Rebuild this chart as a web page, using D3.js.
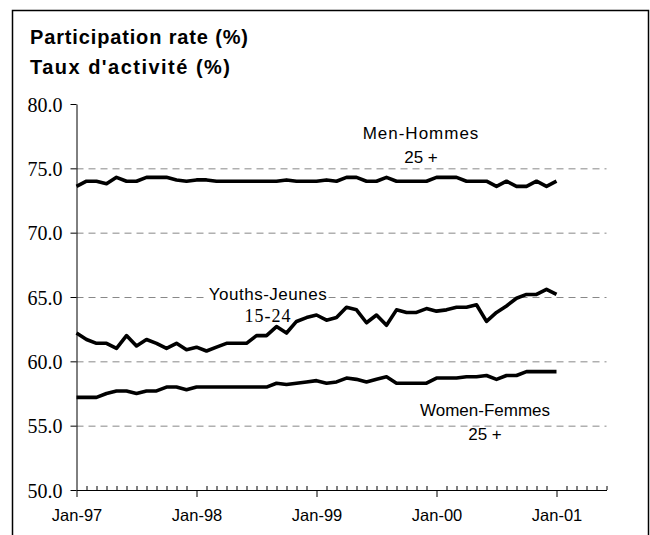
<!DOCTYPE html>
<html>
<head>
<meta charset="utf-8">
<script src="https://cdn.jsdelivr.net/npm/d3@7"></script>
<style>
  html, body { margin: 0; padding: 0; background: #fff; }
  svg { display: block; }
</style>
</head>
<body>
<svg id="chart" width="650" height="535"></svg>
<script>
// ---- data ----
const firstMonth = new Date(1997, 0, 1);
const lastAxisMonth = new Date(2001, 5, 1);
const categories = d3.timeMonth.range(firstMonth, d3.timeMonth.offset(lastAxisMonth, 1)).map(d3.timeFormat("%b-%y"));
const majorLabels = ["Jan-97", "Jan-98", "Jan-99", "Jan-00", "Jan-01"];
const yTicks = [50, 55, 60, 65, 70, 75, 80];
const gridValues = [55, 60, 65, 70, 75];

const men = [73.6, 74.0, 74.0, 73.8, 74.3, 74.0, 74.0, 74.3, 74.3, 74.3, 74.1, 74.0,
             74.1, 74.1, 74.0, 74.0, 74.0, 74.0, 74.0, 74.0, 74.0, 74.1, 74.0, 74.0,
             74.0, 74.1, 74.0, 74.3, 74.3, 74.0, 74.0, 74.3, 74.0, 74.0, 74.0, 74.0,
             74.3, 74.3, 74.3, 74.0, 74.0, 74.0, 73.6, 74.0, 73.6, 73.6, 74.0, 73.6,
             74.0];
const youths = [62.2, 61.7, 61.4, 61.4, 61.0, 62.0, 61.2, 61.7, 61.4, 61.0, 61.4, 60.9,
                61.1, 60.8, 61.1, 61.4, 61.4, 61.4, 62.0, 62.0, 62.7, 62.2, 63.1, 63.4,
                63.6, 63.2, 63.4, 64.2, 64.0, 63.0, 63.6, 62.8, 64.0, 63.8, 63.8, 64.1,
                63.9, 64.0, 64.2, 64.2, 64.4, 63.1, 63.8, 64.3, 64.9, 65.2, 65.2, 65.6,
                65.2];
const women = [57.2, 57.2, 57.2, 57.5, 57.7, 57.7, 57.5, 57.7, 57.7, 58.0, 58.0, 57.8,
               58.0, 58.0, 58.0, 58.0, 58.0, 58.0, 58.0, 58.0, 58.3, 58.2, 58.3, 58.4,
               58.5, 58.3, 58.4, 58.7, 58.6, 58.4, 58.6, 58.8, 58.3, 58.3, 58.3, 58.3,
               58.7, 58.7, 58.7, 58.8, 58.8, 58.9, 58.6, 58.9, 58.9, 59.2, 59.2, 59.2,
               59.2];

const titleLines = ["Participation rate (%)", "Taux d'activité (%)"];
const seriesLabels = [
  { name: "men", line1: "Men-Hommes", line2: "25 +" },
  { name: "youths", line1: "Youths-Jeunes", line2: "15-24" },
  { name: "women", line1: "Women-Femmes", line2: "25 +" }
];

// ---- layout ----
const svg = d3.select("#chart");
const plot = { left: 76.5, right: 606.5, top: 104, bottom: 490 };

const x = d3.scalePoint().domain(categories).range([plot.left, plot.right]);
const y = d3.scaleLinear().domain([50, 80]).range([plot.bottom, plot.top]);

// frame
svg.append("rect")
  .attr("x", 12.5).attr("y", 10.5).attr("width", 636).attr("height", 540)
  .attr("fill", "none").attr("stroke", "#000").attr("stroke-width", 1.5);

// title
const sans = "'Liberation Sans', Arial, sans-serif";
const serif = "'Liberation Serif', 'Times New Roman', serif";
const titleWidths = [218, 200];
svg.selectAll("text.title").data(titleLines).join("text")
  .attr("class", "title")
  .attr("x", 30).attr("y", (d, i) => 44 + i * 30)
  .attr("font-family", sans).attr("font-weight", "bold").attr("font-size", 20)
  .attr("textLength", (d, i) => titleWidths[i]).attr("lengthAdjust", "spacing")
  .attr("fill", "#000")
  .text(d => d);

// gridlines
svg.append("g").selectAll("line").data(gridValues).join("line")
  .attr("x1", plot.left).attr("x2", plot.right)
  .attr("y1", d => y(d) + 0.5).attr("y2", d => y(d) + 0.5)
  .attr("stroke", "#888").attr("stroke-width", 1).attr("stroke-dasharray", "7,5");

// lines
const line = d3.line().x((d, i) => x(categories[i])).y(d => y(d));
svg.append("g").selectAll("path").data([men, youths, women]).join("path")
  .attr("d", d => line(d))
  .attr("fill", "none").attr("stroke", "#000").attr("stroke-width", 3.6)
  .attr("stroke-linejoin", "round");

// y axis
const yAxis = svg.append("g").attr("transform", `translate(${plot.left},0)`)
  .call(d3.axisLeft(y).tickValues(yTicks).tickSize(6).tickSizeOuter(0).tickPadding(8)
        .tickFormat(d3.format(".1f")));
yAxis.selectAll("text").attr("font-family", serif).attr("font-size", 20).attr("fill", "#000").attr("dy", "0.35em");
yAxis.selectAll("line, path").attr("stroke", "#000");

// x axis: minor ticks up, major ticks down with labels
const xMinor = svg.append("g").attr("transform", `translate(0,${plot.bottom})`)
  .call(d3.axisTop(x).tickValues(categories.filter(c => !majorLabels.includes(c))).tickSize(4).tickSizeOuter(0).tickFormat(""));
xMinor.selectAll("line").attr("stroke", "#000");
xMinor.select("path").remove();
const xAxis = svg.append("g").attr("transform", `translate(0,${plot.bottom})`)
  .call(d3.axisBottom(x).tickValues(majorLabels).tickSize(7).tickSizeOuter(0).tickPadding(12));
xAxis.selectAll("line, path").attr("stroke", "#000");
xAxis.selectAll("text").attr("font-family", sans).attr("font-size", 16.5).attr("fill", "#000");

// series labels
const labelPos = {
  men: { cx: 421, y1: 139, y2: 163, ls: 1 },
  youths: { cx: 268, y1: 300, y2: 322, ls: 0.5 },
  women: { cx: 485, y1: 416, y2: 440, ls: 0 }
};
seriesLabels.forEach(s => {
  const p = labelPos[s.name];
  const g = svg.append("g");
  const t1 = g.append("text").attr("x", p.cx).attr("y", p.y1).attr("text-anchor", "middle")
    .attr("font-family", sans).attr("font-size", 17).attr("letter-spacing", p.ls)
    .attr("fill", "#000").text(s.line1);
  if (s.name === "youths") {
    const bb = t1.node().getBBox();
    g.insert("rect", "text").attr("x", bb.x - 1).attr("y", bb.y + 2).attr("width", bb.width + 2).attr("height", bb.height - 4).attr("fill", "#fff");
  }
  g.append("text").attr("x", p.cx).attr("y", p.y2).attr("text-anchor", "middle")
    .attr("font-family", s.name === "youths" ? serif : sans)
    .attr("font-size", s.name === "youths" ? 18 : 17)
    .attr("letter-spacing", s.name === "youths" ? 1 : 0)
    .attr("fill", "#000").text(s.line2);
});
</script>
</body>
</html>
